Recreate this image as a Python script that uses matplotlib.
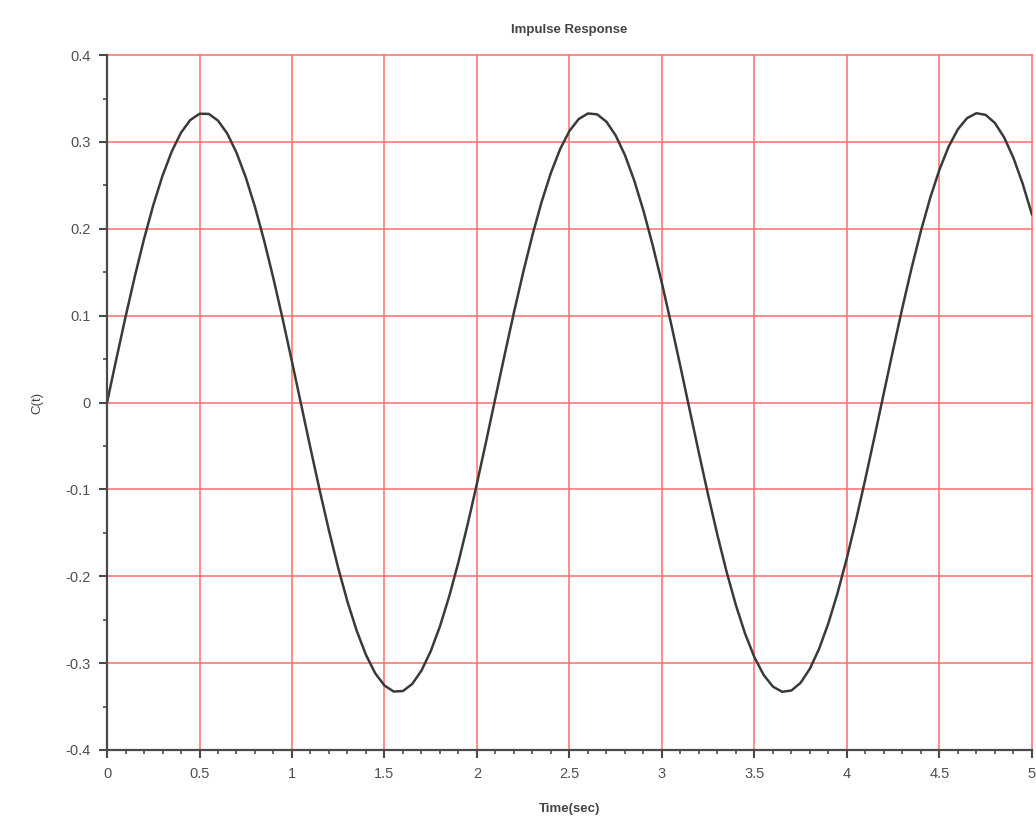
import matplotlib.pyplot as plt
import numpy as np
from matplotlib.ticker import MultipleLocator

# time axis (sec), sampled every 0.05 s
t = [round(0.05 * i, 2) for i in range(101)]

# impulse response values
c = [
    0.0000, 0.0498, 0.0985, 0.1450, 0.1882, 0.2272, 0.2611, 0.2891, 0.3107, 0.3252,
    0.3325, 0.3323, 0.3246, 0.3097, 0.2877, 0.2594, 0.2252, 0.1859, 0.1425, 0.0958,
    0.0470, -0.0028, -0.0526, -0.1012, -0.1475, -0.1905, -0.2293, -0.2628, -0.2905, -0.3117,
    -0.3258, -0.3327, -0.3321, -0.3240, -0.3086, -0.2863, -0.2576, -0.2231, -0.1836, -0.1399,
    -0.0931, -0.0443, 0.0056, 0.0553, 0.1038, 0.1500, 0.1928, 0.2313, 0.2646, 0.2919,
    0.3127, 0.3264, 0.3328, 0.3318, 0.3233, 0.3075, 0.2849, 0.2558, 0.2210, 0.1812,
    0.1374, 0.0904, 0.0415, -0.0084, -0.0581, -0.1065, -0.1525, -0.1951, -0.2333, -0.2663,
    -0.2932, -0.3136, -0.3270, -0.3330, -0.3315, -0.3226, -0.3064, -0.2834, -0.2540, -0.2189,
    -0.1789, -0.1348, -0.0877, -0.0387, 0.0112, 0.0609, 0.1092, 0.1550, 0.1974, 0.2353,
    0.2679, 0.2946, 0.3146, 0.3275, 0.3331, 0.3312, 0.3219, 0.3053, 0.2819, 0.2522,
    0.2168,
]

x_ticks = [0, 0.5, 1, 1.5, 2, 2.5, 3, 3.5, 4, 4.5, 5]
x_labels = ["0", "0.5", "1", "1.5", "2", "2.5", "3", "3.5", "4", "4.5", "5"]
y_ticks = [-0.4, -0.3, -0.2, -0.1, 0, 0.1, 0.2, 0.3, 0.4]
y_labels = ["-0.4", "-0.3", "-0.2", "-0.1", "0", "0.1", "0.2", "0.3", "0.4"]

plt.rcParams["font.family"] = ["Liberation Sans", "DejaVu Sans"]

fig = plt.figure(figsize=(10.36, 8.35), dpi=100)
ax = fig.add_axes([0.1033, 0.1018, 0.8927, 0.8322])

ax.plot(t, c, color="#3a3a3a", linewidth=1.8, zorder=3,
        solid_joinstyle="round", antialiased=True)

ax.set_xlim(0, 5)
ax.set_ylim(-0.4, 0.4)
ax.set_xticks(x_ticks)
ax.set_xticklabels(x_labels)
ax.set_yticks(y_ticks)
ax.set_yticklabels(y_labels)
ax.xaxis.set_minor_locator(MultipleLocator(0.1))
ax.yaxis.set_minor_locator(MultipleLocator(0.05))

ax.grid(True, which="major", color="#ff7575", linewidth=1.3, alpha=0.9)
ax.set_axisbelow(True)
for gl in ax.get_xgridlines() + ax.get_ygridlines():
    gl.set_clip_on(False)

for side in ["top", "right"]:
    ax.spines[side].set_visible(False)
for side in ["left", "bottom"]:
    ax.spines[side].set_color("#4a4a4a")
    ax.spines[side].set_linewidth(1.6)
    ax.spines[side].set_zorder(4)

ax.tick_params(which="major", direction="out", length=6, width=1.5,
               color="#4a4a4a", labelsize=10.5, labelcolor="#505050", pad=6)
ax.tick_params(which="minor", direction="out", length=3, width=1.2, color="#4a4a4a")

ax.set_title("Impulse Response", fontsize=9.5, fontweight="bold", color="#444444", pad=16)
ax.set_xlabel("Time(sec)", fontsize=9.5, fontweight="bold", color="#444444", labelpad=16)
ax.set_ylabel("C(t)", fontsize=9.5, color="#444444", labelpad=16)

fig.savefig("out.png", dpi=100)
